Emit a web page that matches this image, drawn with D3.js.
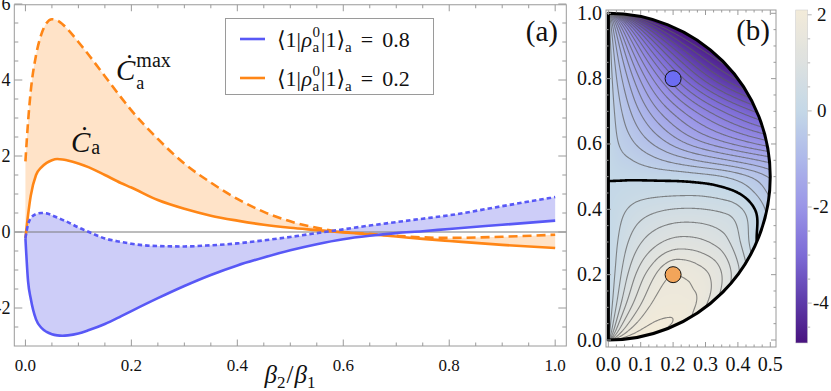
<!DOCTYPE html>
<html><head><meta charset="utf-8">
<script src="https://cdn.jsdelivr.net/npm/d3@7"></script>
<style>
body{margin:0;background:#fff}
svg{display:block}
text{font-family:"Liberation Serif","DejaVu Serif",serif;fill:#111}
</style>
</head><body>
<svg id="c" width="831" height="391" font-family="Liberation Serif, DejaVu Serif, serif"></svg>
<script>
// ---------------- DATA: panel (a) ----------------
const ratio   = [0,0.005,0.01,0.02,0.03,0.04,0.05,0.06,0.07,0.08,0.1,0.12,0.15,0.18,0.2,0.25,0.3,0.35,0.4,0.45,0.5,0.55,0.6,0.65,0.7,0.75,0.8,0.9,1.0];
// <1|rho|1> = 0.8 (blue)
const blueC   = [-0.16,-1.3,-1.75,-2.3,-2.52,-2.63,-2.69,-2.72,-2.73,-2.72,-2.67,-2.58,-2.42,-2.22,-2.08,-1.74,-1.42,-1.13,-0.88,-0.67,-0.48,-0.32,-0.19,-0.1,-0.03,0.02,0.08,0.19,0.30];
const blueMax = [-0.16,0.2,0.36,0.47,0.5,0.49,0.44,0.38,0.32,0.26,0.12,0.0,-0.17,-0.26,-0.31,-0.37,-0.38,-0.35,-0.3,-0.22,-0.13,-0.03,0.07,0.17,0.26,0.35,0.44,0.68,0.92];
// <1|rho|1> = 0.2 (orange)
const orangeC   = [-0.16,0.45,0.95,1.5,1.7,1.82,1.89,1.92,1.91,1.88,1.8,1.7,1.5,1.29,1.17,0.84,0.61,0.43,0.3,0.19,0.11,0.05,-0.01,-0.06,-0.12,-0.18,-0.235,-0.34,-0.42];
const orangeMax = [1.86,2.9,3.7,4.65,5.2,5.5,5.6,5.57,5.47,5.33,5.0,4.65,4.1,3.55,3.2,2.45,1.8,1.3,0.87,0.53,0.28,0.11,0.0,-0.05,-0.1,-0.14,-0.155,-0.125,-0.07];
const xTicksA = [0,0.2,0.4,0.6,0.8,1.0];
const yTicksA = [-2,0,2,4,6];
const legendLabels = ["0.8","0.2"];

// ---------------- DATA: panel (b) ----------------
// C_a on (s = |rho01|/sqrt(p(1-p)), p = <1|rho|1>)
const sNodes = [0,0.05,0.15,0.3,0.5,0.75,1];
const pNodes = [0,0.05,0.1,0.2,0.3,0.4,0.45,0.5,0.55,0.6,0.7,0.8,0.9,1];
const fieldRows = [
  [0, 0.45,1.15,1.65,1.95,2.1, 2.05],
  [0, 0.38,1.02,1.55,1.9, 2.05,1.9],
  [0, 0.32,0.9, 1.45,1.85,1.9, 1.5],
  [0, 0.25,0.75,1.3, 1.75,1.55,0.8],
  [0, 0.2, 0.55,0.9, 1.1, 0.9, 0.0],
  [0, 0.12,0.3, 0.45,0.52,0.42,-0.3],
  [0, 0.05,0.13,0.18,0.2, 0.08,-0.55],
  [0,-0.02,-0.04,-0.07,-0.12,-0.3,-0.8],
  [0,-0.12,-0.25,-0.45,-0.7,-1.0,-1.35],
  [0,-0.2,-0.45,-0.8,-1.25,-1.7,-2.1],
  [0,-0.3,-0.75,-1.35,-2.0,-2.7,-3.3],
  [0,-0.4,-1.0,-1.8,-2.68,-3.6,-4.3],
  [0,-0.5,-1.25,-2.2,-3.2,-4.1,-4.7],
  [0,-0.6,-1.5,-2.5,-3.6,-4.4,-4.83]
];
const contourLevels = d3.range(-4.75, 2.01, 0.25).filter(v => Math.abs(v) > 1e-6);
const markers = [{x:0.2,y:0.8,c:"#6c6cf2"},{x:0.2,y:0.2,c:"#f2a55a"}];
const xTicksB = [0,0.1,0.2,0.3,0.4,0.5];
const yTicksB = [0,0.2,0.4,0.6,0.8,1.0];
const cbValues = [2.1, 1, 0, -1, -2, -3, -4, -4.83];
const cbColors = ["#f3ebd9","#dde1e0","#c4d8e7","#aeb8ea","#9a95e7","#7d6bd6","#5d3aa8","#48137f"];
const cbTicks = [2,0,-2,-4];

const BLUE = "#5858f6", ORANGE = "#ff8616";
const SERIF = "Liberation Serif, DejaVu Serif, serif";
const svg = d3.select("#c");
const defs = svg.append("defs");

function mathText(parent, x, y, parts, opts={}) {
  const g = parent.append("g");
  let cx = 0, lastStart = 0;
  parts.forEach(pt => {
    const t = g.append("text").attr("y", y + (pt.dy||0)).attr("font-family", SERIF)
      .style("font-size", pt.fs + "px")
      .style("font-style", pt.it ? "italic" : "normal")
      .text(pt.t);
    const start = pt.back ? lastStart : cx + (pt.dx||0);
    t.attr("x", x + start);
    const w = t.node().getComputedTextLength();
    if (!pt.back) lastStart = start;
    cx = Math.max(cx, start + w);
  });
  if (opts.center) g.attr("transform", `translate(${-cx/2},0)`);
  return g;
}
function label(parent, x, y, txt, fs, anchor) {
  return parent.append("text").attr("x",x).attr("y",y).attr("text-anchor",anchor||"start")
    .attr("font-family",SERIF).style("font-size",fs+"px").text(txt);
}

// ================= Panel (a) =================
const xA = d3.scaleLinear().domain([-0.021, 1.021]).range([14.3, 566.3]);
const yA = d3.scaleLinear().domain([-3.0, 5.98]).range([346, 4.76]);
const gA = svg.append("g");
defs.append("clipPath").attr("id","clipA").append("rect")
  .attr("x",14.3).attr("y",4.76).attr("width",552).attr("height",341.24);
const plotA = gA.append("g").attr("clip-path","url(#clipA)");

const pts = (lo, hi) => ratio.map((r,i)=>({r, lo:lo[i], hi:hi[i]}));
const area = d3.area().x(d=>xA(d.r)).y0(d=>yA(d.lo)).y1(d=>yA(d.hi)).curve(d3.curveMonotoneX);
plotA.append("path").datum(pts(orangeC, orangeMax)).attr("d", area).attr("fill","#ffe3c8");
plotA.append("path").datum(pts(blueC, blueMax)).attr("d", area).attr("fill","#cacaf8").attr("fill-opacity",0.95);
plotA.append("line").attr("x1",14.3).attr("x2",566.3).attr("y1",yA(0)).attr("y2",yA(0)).attr("stroke","#7a7a7a").attr("stroke-width",1);

const line = d3.line().x((d,i)=>xA(ratio[i])).y(d=>yA(d)).curve(d3.curveMonotoneX);
plotA.append("path").datum(orangeMax).attr("d",line).attr("fill","none").attr("stroke",ORANGE).attr("stroke-width",2.6).attr("stroke-dasharray","9,5");
plotA.append("path").datum(orangeC).attr("d",line).attr("fill","none").attr("stroke",ORANGE).attr("stroke-width",2.6);
plotA.append("path").datum(blueMax).attr("d",line).attr("fill","none").attr("stroke",BLUE).attr("stroke-width",2.6).attr("stroke-dasharray","4.5,3");
plotA.append("path").datum(blueC).attr("d",line).attr("fill","none").attr("stroke",BLUE).attr("stroke-width",2.6);

gA.append("rect").attr("x",14.3).attr("y",4.76).attr("width",552).attr("height",341.24).attr("fill","none").attr("stroke","#9a9a9a").attr("stroke-width",1);
const tickA = gA.append("g").attr("stroke","#9a9a9a").attr("stroke-width",1);
d3.range(0,1.0001,0.05).forEach(v=>{
  const maj = xTicksA.some(t=>Math.abs(t-v)<1e-6), L = maj?6.5:3.5;
  tickA.append("line").attr("x1",xA(v)).attr("x2",xA(v)).attr("y1",346).attr("y2",346-L);
  tickA.append("line").attr("x1",xA(v)).attr("x2",xA(v)).attr("y1",4.76).attr("y2",4.76+L);
});
d3.range(-2.5,6.0001,0.5).forEach(v=>{
  const maj = yTicksA.some(t=>Math.abs(t-v)<1e-6), L = maj?8:4;
  tickA.append("line").attr("x1",14.3).attr("x2",14.3+L).attr("y1",yA(v)).attr("y2",yA(v));
  tickA.append("line").attr("x1",566.3).attr("x2",566.3-L).attr("y1",yA(v)).attr("y2",yA(v));
});
xTicksA.forEach(v=>label(gA, xA(v), 371, v.toFixed(1), 17, "middle"));
yTicksA.forEach(v=>label(gA, 10.5, yA(v)+6, v<0?"-"+Math.abs(v):String(v), 18, "end"));

mathText(svg, 290, 383, [
  {t:"β",it:1,fs:25},{t:"2",fs:17,dy:5},{t:"/",fs:25,dx:1},{t:"β",it:1,fs:25,dx:1},{t:"1",fs:17,dy:5}
], {center:true});

mathText(svg, 116, 80, [{t:"Ċ",it:1,fs:29},{t:"max",fs:20,dy:-13,dx:1},{t:"a",fs:18,dy:9,back:1}]);
mathText(svg, 71, 152, [{t:"Ċ",it:1,fs:29},{t:"a",fs:20,dy:2,dx:1}]);
label(svg, 558, 41, "(a)", 29, "end");

svg.append("rect").attr("x",225.5).attr("y",18.5).attr("width",208).attr("height",76).attr("fill","#fff").attr("stroke","#9a9a9a").attr("stroke-width",1);
[[BLUE,39,47,legendLabels[0]],[ORANGE,78,86,legendLabels[1]]].forEach(([col,ly,by,val])=>{
  svg.append("line").attr("x1",240).attr("x2",265).attr("y1",ly).attr("y2",ly).attr("stroke",col).attr("stroke-width",2.6);
  mathText(svg, 277, by, [
    {t:"⟨1|",fs:22},{t:"ρ",it:1,fs:22,dx:0.5},{t:"0",fs:15,dy:-10,dx:0.5},{t:"a",fs:15,dy:5,back:1},
    {t:"|1⟩",fs:22,dx:1},{t:"a",fs:15,dy:5},{t:"=",fs:22,dx:9},{t:val,fs:22,dx:9}
  ]);
});

// ================= Panel (b) =================
const xB = d3.scaleLinear().domain([0,0.5]).range([608.3,770.3]);
const yB = d3.scaleLinear().domain([0,1]).range([340,13.3]);
const SX = 324, SY = 326.7;

// Steffen monotone cubic (rendering-only smoothing of the estimated grid)
function steffen(xs, ys){
  const n=xs.length, h=[], sl=[], d=new Array(n);
  for(let i=0;i<n-1;i++){ h[i]=xs[i+1]-xs[i]; sl[i]=(ys[i+1]-ys[i])/h[i]; }
  for(let i=1;i<n-1;i++){
    const p=(sl[i-1]*h[i]+sl[i]*h[i-1])/(h[i-1]+h[i]);
    d[i]=(Math.sign(sl[i-1])+Math.sign(sl[i]))*Math.min(Math.abs(sl[i-1]),Math.abs(sl[i]),0.5*Math.abs(p));
  }
  const end=(s0,s1,h0,h1)=>{ let p=s0*(1+h0/(h0+h1))-s1*h0/(h0+h1); if(p*s0<=0)p=0; else if(Math.abs(p)>2*Math.abs(s0)) p=2*s0; return p; };
  d[0]=end(sl[0],sl[1],h[0],h[1]); d[n-1]=end(sl[n-2],sl[n-3],h[n-2],h[n-3]);
  return x=>{ let i=n-2; for(let k=0;k<n-1;k++){ if(x<=xs[k+1]){i=k;break;} }
    const t=(x-xs[i])/h[i], t2=t*t, t3=t2*t;
    return (2*t3-3*t2+1)*ys[i]+(t3-2*t2+t)*h[i]*d[i]+(-2*t3+3*t2)*ys[i+1]+(t3-t2)*h[i]*d[i+1]; };
}
const NS=201, NP=401;
const rowSpl = fieldRows.map(r=>steffen(sNodes, r));
const fine = [];
for(let j=0;j<NS;j++){
  const s=j/(NS-1);
  const cs = steffen(pNodes, rowSpl.map(f=>f(s)));
  fine.push(Float64Array.from({length:NP},(_,i)=>cs(i/(NP-1))));
}
function fieldAt(s,p){
  const fs=Math.min(Math.max(s,0),1)*(NS-1), fp=Math.min(Math.max(p,0),1)*(NP-1);
  const j=Math.min(Math.floor(fs),NS-2), i=Math.min(Math.floor(fp),NP-2);
  const ts=fs-j, tp=fp-i;
  return (fine[j][i]*(1-tp)+fine[j][i+1]*tp)*(1-ts)+(fine[j+1][i]*(1-tp)+fine[j+1][i+1]*tp)*ts;
}
const GX0=598, GY0=3, GW=185, GH=350;
const vals = new Float64Array(GW*GH);
for(let j=0;j<GH;j++) for(let i=0;i<GW;i++){
  const x=(GX0+i+0.5-608.3)/SX, y=(340-(GY0+j+0.5))/SY;
  const p=Math.min(Math.max(y,0.0005),0.9995);
  let s=x/Math.sqrt(p*(1-p));
  const sg = s<0?-1:1; s=Math.min(Math.abs(s),1);
  vals[i+j*GW]=sg*fieldAt(s,p);
}
const cScale = d3.scaleLinear().domain(cbValues.slice().reverse()).range(cbColors.slice().reverse()).clamp(true);
const canvas=document.createElement("canvas"); canvas.width=GW; canvas.height=GH;
const ctx=canvas.getContext("2d"); const img=ctx.createImageData(GW,GH);
for(let k=0;k<GW*GH;k++){ const c=d3.rgb(cScale(vals[k])); img.data[4*k]=c.r; img.data[4*k+1]=c.g; img.data[4*k+2]=c.b; img.data[4*k+3]=255; }
ctx.putImageData(img,0,0);

const rx=0.5*SX, ry=0.5*SY;
const halfDisk = `M${xB(0)},${yB(0)} L${xB(0)},${yB(1)} A${rx},${ry} 0 0 1 ${xB(0)},${yB(0)} Z`;
defs.append("clipPath").attr("id","clipB").append("path").attr("d",halfDisk);
const gB = svg.append("g");
const inB = gB.append("g").attr("clip-path","url(#clipB)");
inB.append("image").attr("x",GX0).attr("y",GY0).attr("width",GW).attr("height",GH)
  .attr("preserveAspectRatio","none").attr("href",canvas.toDataURL());
const geo = d3.geoPath(d3.geoIdentity());
const cont = d3.contours().size([GW,GH]).thresholds(contourLevels.concat([0]))(vals);
const cg = inB.append("g").attr("transform",`translate(${GX0},${GY0})`);
cont.forEach(c=>{
  const zero = Math.abs(c.value)<1e-9;
  cg.append("path").attr("d",geo(c)).attr("fill","none")
    .attr("stroke", zero ? "#000" : "#5e5e5e").attr("stroke-opacity", zero?1:0.72)
    .attr("stroke-width", zero?2.6:1.1);
});
gB.append("path").attr("d",halfDisk).attr("fill","none").attr("stroke","#000").attr("stroke-width",3).attr("stroke-linejoin","round");
markers.forEach(m=>gB.append("circle").attr("cx",xB(m.x)).attr("cy",yB(m.y)).attr("r",8).attr("fill",m.c).attr("stroke","#111").attr("stroke-width",1));

gB.append("rect").attr("x",606).attr("y",10).attr("width",170).attr("height",337).attr("fill","none").attr("stroke","#9a9a9a").attr("stroke-width",1);
const tickB = gB.append("g").attr("stroke","#9a9a9a").attr("stroke-width",1);
d3.range(0,0.5001,0.025).forEach(v=>{
  const maj = xTicksB.some(t=>Math.abs(t-v)<1e-6), L=maj?5:2.5;
  tickB.append("line").attr("x1",xB(v)).attr("x2",xB(v)).attr("y1",347).attr("y2",347-L);
  tickB.append("line").attr("x1",xB(v)).attr("x2",xB(v)).attr("y1",10).attr("y2",10+L);
});
d3.range(0,1.0001,0.05).forEach(v=>{
  const maj = yTicksB.some(t=>Math.abs(t-v)<1e-6), L=maj?5:2.5;
  tickB.append("line").attr("x1",606).attr("x2",606+L).attr("y1",yB(v)).attr("y2",yB(v));
  tickB.append("line").attr("x1",776).attr("x2",776-L).attr("y1",yB(v)).attr("y2",yB(v));
});
xTicksB.forEach(v=>label(gB, xB(v), 371, v.toFixed(1), 20, "middle"));
yTicksB.forEach(v=>label(gB, 602, yB(v)+6.5, v.toFixed(1), 20, "end"));
label(svg, 770, 40, "(b)", 29, "end");

const yC = d3.scaleLinear().domain([-4.83,2.1]).range([343,10]);
const grad = defs.append("linearGradient").attr("id","cbg").attr("x1",0).attr("x2",0).attr("y1",0).attr("y2",1);
d3.range(0,1.0001,0.02).forEach(t=>{
  const v = 2.1 - t*(2.1+4.83);
  grad.append("stop").attr("offset",t).attr("stop-color",cScale(v));
});
svg.append("rect").attr("x",795.7).attr("y",10).attr("width",12).attr("height",333).attr("fill","url(#cbg)").attr("stroke","#cfcfcf").attr("stroke-width",0.6);
const tickC = svg.append("g").attr("stroke","#b5b5b5").attr("stroke-width",1);
d3.range(-4.5,2.0001,0.5).forEach(v=>{
  const maj = cbTicks.includes(v);
  tickC.append("line").attr("x1",807.7).attr("x2",807.7+(maj?4:2.5)).attr("y1",yC(v)).attr("y2",yC(v));
});
cbTicks.forEach(v=>label(svg, v<0?813:817, yC(v)+6, v<0?"-"+Math.abs(v):String(v), 19));
</script>
</body></html>
